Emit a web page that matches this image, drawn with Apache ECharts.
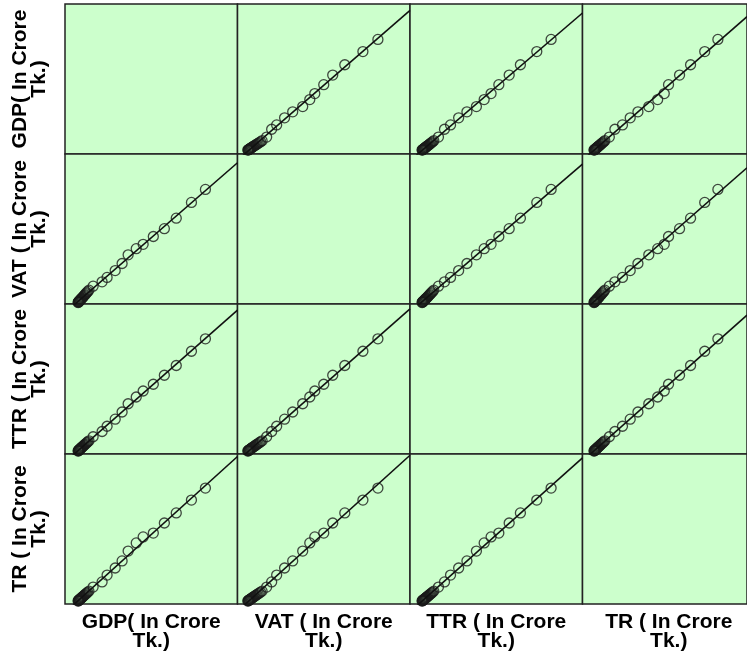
<!DOCTYPE html>
<html>
<head>
<meta charset="utf-8">
<script src="https://cdn.jsdelivr.net/npm/echarts@6/dist/echarts.min.js"></script>
<style>
html,body{margin:0;padding:0;background:#fff;}
#chart{width:747px;height:655px;}
</style>
</head>
<body>
<div id="chart"></div>
<script>
// Variable names (labels)
const varLabels = ["GDP( In Crore\nTk.)", "VAT ( In Crore\nTk.)", "TTR ( In Crore\nTk.)", "TR ( In Crore\nTk.)"];

const GDP = [76000, 77500, 79000, 80800, 82500, 84600, 86900, 89300, 91800, 94700,
             97600, 100900, 104300, 108100, 112000, 116400, 121200, 126500, 132300, 139000,
             163000, 215000, 244000, 291000, 331000, 366000, 413000, 453000, 512000, 576000,
             645000, 733000, 814000];
const VAT = [2400, 2480, 2570, 2650, 2750, 2860, 2980, 3100, 3240, 3380,
             3540, 3700, 3880, 4080, 4300, 4520, 4780, 5060, 5360, 5700,
             6760, 7920, 9080, 10920, 12800, 15120, 16760, 17920, 20000, 22080,
             24880, 29080, 32560];
const TTR = [7000, 7180, 7370, 7560, 7780, 8000, 8250, 8520, 8800, 9100,
             9430, 9780, 10160, 10560, 11000, 11470, 11980, 12530, 13120, 13800,
             16500, 20000, 23500, 28200, 33000, 38500, 43000, 47000, 51500, 57500,
             64000, 73500, 81800];
const TR  = [8400, 8600, 8830, 9050, 9300, 9560, 9850, 10150, 10480, 10830,
             11200, 11600, 12050, 12500, 13000, 13550, 14150, 14800, 15500, 16300,
             19560, 23640, 29160, 34800, 40440, 48360, 54840, 59640, 62760, 70800,
             78840, 89160, 98760];

// Axis ranges per variable (horizontal use / vertical use)
const xRange = [[0, 1000000], [0, 40000], [0, 100000], [0, 120000]];
const yRange = [[50000, 1050000], [2000, 42000], [5000, 105000], [6000, 126000]];

const vars = [GDP, VAT, TTR, TR];

// layout
const L = 65, T = 4, CW = 172.5, CH = 150;
const FONT = 'bold 21px "Liberation Sans", Arial, sans-serif';

const grids = [], xAxes = [], yAxes = [], series = [], graphics = [];

function fit(xs, ys) {
  const n = xs.length;
  let sx = 0, sy = 0, sxx = 0, sxy = 0;
  for (let i = 0; i < n; i++) { sx += xs[i]; sy += ys[i]; sxx += xs[i]*xs[i]; sxy += xs[i]*ys[i]; }
  const b = (n*sxy - sx*sy) / (n*sxx - sx*sx);
  const a = (sy - b*sx) / n;
  return [a, b];
}

let idx = 0;
for (let r = 0; r < 4; r++) {
  for (let c = 0; c < 4; c++) {
    grids.push({
      left: L + c*CW, top: T + r*CH, width: CW, height: CH,
      show: true, backgroundColor: '#ccffcc', borderColor: '#222', borderWidth: 1.5,
      containLabel: false
    });
    xAxes.push({
      type: 'value', gridIndex: idx, min: xRange[c][0], max: xRange[c][1],
      axisLine: {show: false}, axisTick: {show: false}, axisLabel: {show: false}, splitLine: {show: false}
    });
    yAxes.push({
      type: 'value', gridIndex: idx, min: yRange[r][0], max: yRange[r][1],
      axisLine: {show: false}, axisTick: {show: false}, axisLabel: {show: false}, splitLine: {show: false}
    });
    if (r !== c) {
      const xs = vars[c], ys = vars[r];
      series.push({
        type: 'scatter', xAxisIndex: idx, yAxisIndex: idx,
        data: xs.map((v, i) => [v, ys[i]]),
        symbol: 'circle', symbolSize: 10,
        itemStyle: {color: 'rgba(0,0,0,0)', borderColor: '#1a1a1a', borderWidth: 1.3},
        silent: true, animation: false
      });
      const [a, b] = fit(xs, ys);
      const x0 = xRange[c][0], x1 = xRange[c][1];
      series.push({
        type: 'line', xAxisIndex: idx, yAxisIndex: idx,
        data: [[x0, a + b*x0], [x1, a + b*x1]],
        showSymbol: false, symbol: 'none', clip: true,
        lineStyle: {color: '#111', width: 1.6},
        silent: true, animation: false
      });
    }
    idx++;
  }
}

// bottom labels
for (let c = 0; c < 4; c++) {
  graphics.push({
    type: 'text', x: L + c*CW + CW/2, y: 613,
    style: {text: varLabels[c], font: FONT, fill: '#000', align: 'center', verticalAlign: 'top', lineHeight: 19}
  });
}
// left labels (rotated)
for (let r = 0; r < 4; r++) {
  graphics.push({
    type: 'text', x: 30, y: T + r*CH + CH/2, rotation: Math.PI/2,
    style: {text: varLabels[r], font: FONT, fill: '#000', align: 'center', verticalAlign: 'middle', lineHeight: 19}
  });
}

const chart = echarts.init(document.getElementById('chart'), null, {renderer: 'canvas'});
chart.setOption({
  animation: false,
  backgroundColor: '#fff',
  grid: grids, xAxis: xAxes, yAxis: yAxes, series: series,
  graphic: graphics
});
</script>
</body>
</html>
